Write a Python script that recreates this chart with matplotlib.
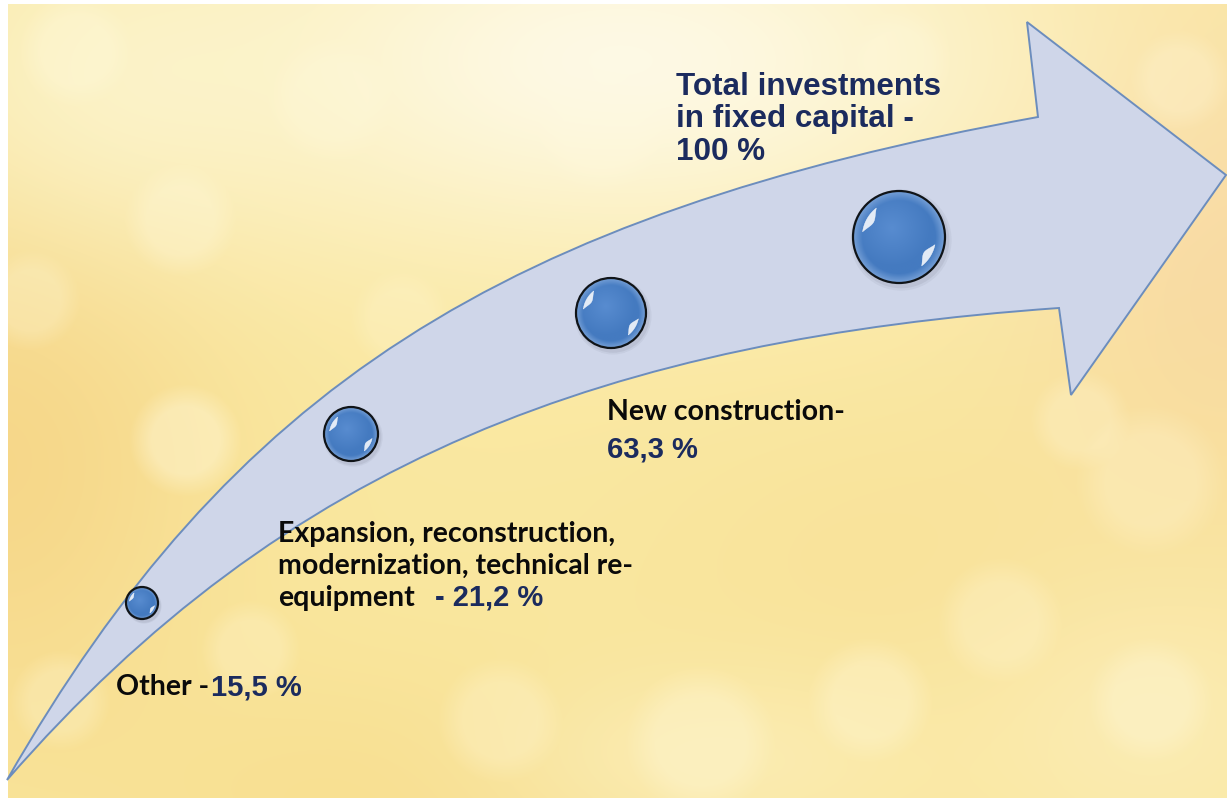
import numpy as np
import matplotlib
matplotlib.use('agg')
import matplotlib.pyplot as plt
from matplotlib.path import Path
from matplotlib.patches import PathPatch, Circle, Polygon

W, H = 1227, 798

# investment structure, share of total investments in fixed capital
stage_names = ['Other -',
               'Expansion, reconstruction,\nmodernization, technical re-\nequipment',
               'New construction-',
               'Total investments\nin fixed capital -']
shares = [15.5, 21.2, 63.3, 100.0]

# bubble layout along the arrow (pixel coords, y down)
bubble_xy = [(142, 603), (351, 434), (611, 313), (899, 237)]
bubble_r = [16, 27, 35, 46]

NAVY = '#1b2b5e'
BLACK_FONT = dict(family='Lato', weight='bold', color='#0a0a0a')
NUM_FONT = dict(family='Liberation Sans', weight='bold', color=NAVY)


def fmt(v):
    s = ('%.1f' % v).replace('.', ',')
    if s.endswith(',0'):
        s = s[:-2]
    return s + ' %'


# ---- background: warm bokeh wash ----
yy, xx = np.mgrid[0:H, 0:W].astype(float)
bg = np.ones((H, W, 3)) * np.array([250, 232, 160]) / 255


def tint(cx, cy, sx, sy, rgb, k):
    w = k * np.exp(-(((xx - cx) / sx) ** 2 + ((yy - cy) / sy) ** 2))
    w = w[..., None]
    bg[:] = bg * (1 - w) + np.array(rgb)[None, None, :] / 255 * w


tint(0, 450, 220, 300, (245, 210, 130), 0.75)
tint(1227, 260, 200, 260, (248, 212, 160), 0.7)
tint(430, 800, 320, 140, (246, 214, 128), 0.5)
tint(900, 560, 260, 160, (248, 220, 148), 0.4)
tint(620, 60, 430, 200, (254, 251, 236), 0.9)
tint(120, 80, 220, 160, (252, 248, 215), 0.6)
tint(700, 760, 220, 90, (252, 243, 200), 0.5)
tint(1150, 720, 160, 130, (252, 242, 205), 0.4)

bokeh = [(75, 50, 45, .3), (185, 440, 45, .4), (30, 300, 40, .25),
         (1150, 480, 60, .25), (700, 740, 60, .3), (500, 720, 50, .25),
         (1000, 620, 50, .25), (870, 700, 50, .3), (1080, 420, 40, .25),
         (60, 700, 40, .25), (400, 320, 40, .2), (250, 650, 40, .25),
         (1150, 700, 50, .3), (330, 100, 50, .25), (600, 130, 50, .25),
         (180, 220, 45, .3), (900, 60, 40, .25), (1180, 80, 40, .25)]
for bx, by, br, ba in bokeh:
    d = np.hypot(xx - bx, yy - by)
    a = ba * np.clip((br - d) / (0.5 * br) + 0.5, 0, 1)
    a = a[..., None]
    bg[:] = bg * (1 - a) + np.array([1.0, 0.98, 0.88]) * a

bg[:4, :] = 1.0
bg[:, :8] = 1.0

fig = plt.figure(figsize=(W / 100, H / 100), dpi=100)
ax = fig.add_axes([0, 0, 1, 1])
ax.imshow(bg, extent=(0, W, H, 0), aspect='auto', zorder=0)
ax.set_xlim(0, W)
ax.set_ylim(H, 0)
ax.axis('off')

# ---- curved arrow ----
verts = [(7, 780), (230, 390), (500, 215), (1038, 117),
         (1027, 22), (1226, 175), (1071, 395), (1059, 308),
         (609, 340), (286, 459), (7, 780), (7, 780)]
codes = [Path.MOVETO, Path.CURVE4, Path.CURVE4, Path.CURVE4,
         Path.LINETO, Path.LINETO, Path.LINETO, Path.LINETO,
         Path.CURVE4, Path.CURVE4, Path.CURVE4, Path.CLOSEPOLY]
ax.add_patch(PathPatch(Path(verts, codes), facecolor='#cfd6e9',
                       edgecolor='#6c8dbd', lw=1.4, zorder=2,
                       joinstyle='miter'))


def crescent(cx, cy, r, a0, a1, width):
    # glint along the rim, thickest in the middle; angles in screen sense
    s = np.linspace(0, 1, 40)
    ang = np.radians(a0 + (a1 - a0) * s)
    ro = 0.80 * r
    ri = ro - width * np.sin(np.pi * s)
    outer = np.c_[cx + ro * np.cos(ang), cy - ro * np.sin(ang)]
    inner = np.c_[cx + ri * np.cos(ang), cy - ri * np.sin(ang)][::-1]
    return np.vstack([outer, inner])


# ---- glossy bubbles ----
for (cx, cy), r in zip(bubble_xy, bubble_r):
    for k, al in [(1.10, 0.06), (1.05, 0.08)]:
        ax.add_patch(Circle((cx + 2, cy + 3), r * k, color='#3a4050',
                            alpha=al, lw=0, zorder=3))
    n = 120
    g = np.linspace(-1, 1, n)
    gx, gy = np.meshgrid(g, g)
    rr = np.hypot(gx + 0.15, gy + 0.2)
    c0 = np.array([88, 140, 208]) / 255
    c1 = np.array([68, 122, 192]) / 255
    c2 = np.array([118, 160, 215]) / 255
    t1 = np.clip(rr / 0.85, 0, 1)[..., None]
    img = c0 * (1 - t1) + c1 * t1
    t2 = np.clip((np.hypot(gx, gy) - 0.8) / 0.2, 0, 1)[..., None]
    img = img * (1 - t2) + c2 * t2
    im = ax.imshow(np.clip(img, 0, 1), extent=(cx - r, cx + r, cy + r, cy - r),
                   aspect='auto', zorder=4, interpolation='bilinear')
    clip = Circle((cx, cy), r, transform=ax.transData)
    im.set_clip_path(clip)
    w = max(2.5, 0.16 * r)
    for a0, a1 in [(128, 172), (-52, -12)]:
        ax.add_patch(Polygon(crescent(cx, cy, r, a0, a1, w), closed=True,
                             facecolor='white', edgecolor='white', lw=0.3,
                             alpha=0.85, zorder=5))
    ax.add_patch(Circle((cx, cy), r, fill=False, edgecolor='#101418',
                        lw=1.6, zorder=6))

# ---- labels ----
fig.canvas.draw()
renderer = fig.canvas.get_renderer()


def after(t, gap):
    bb = t.get_window_extent(renderer)
    return bb.x1 + gap


BFS = 20.5
NFS = 21

# Other
t = ax.text(116, 695, stage_names[0], fontsize=BFS, va='baseline', zorder=7,
            **BLACK_FONT)
ax.text(after(t, 2), 695, fmt(shares[0]), fontsize=NFS, va='baseline',
        zorder=7, **NUM_FONT)

# Expansion, reconstruction ...
lines = stage_names[1].split('\n')
for i, s in enumerate(lines):
    t = ax.text(278, 542 + 32 * i, s, fontsize=BFS, va='baseline', zorder=7,
                **BLACK_FONT)
ax.text(after(t, 20), 606, '- ' + fmt(shares[1]), fontsize=NFS,
        va='baseline', zorder=7, **NUM_FONT)

# New construction
ax.text(607, 420, stage_names[2], fontsize=BFS, va='baseline', zorder=7,
        **BLACK_FONT)
ax.text(607, 457, fmt(shares[2]), fontsize=NFS, va='baseline', zorder=7,
        **NUM_FONT)

# Total
for i, s in enumerate(stage_names[3].split('\n') + [fmt(shares[3])]):
    ax.text(676, 95 + 32.5 * i, s, fontsize=22.6, va='baseline', zorder=7,
            **NUM_FONT)

fig.savefig('out.png', dpi=100)
